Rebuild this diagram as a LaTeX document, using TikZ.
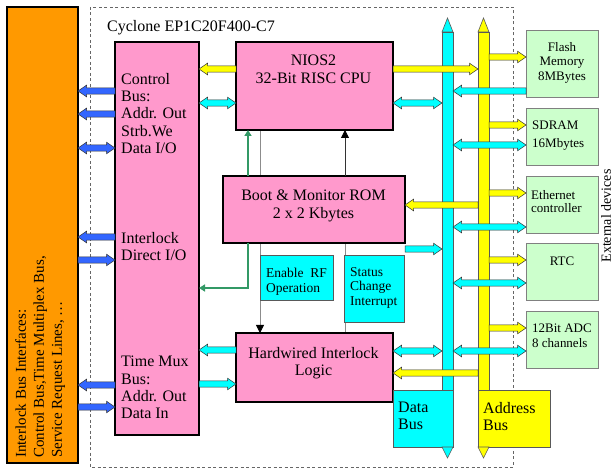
\documentclass[tikz,border=0pt]{standalone}
\usepackage{fontspec}
\setmainfont{Liberation Serif}
\usetikzlibrary{arrows.meta,positioning,calc,backgrounds}
\definecolor{pinkbox}{RGB}{255,153,204}
\definecolor{ilkorange}{RGB}{255,153,0}
\definecolor{devgreen}{RGB}{204,255,204}
\definecolor{ctlblue}{RGB}{51,102,255}
\definecolor{romgreen}{RGB}{51,153,102}
\definecolor{buscyan}{RGB}{0,255,255}
\definecolor{busyellow}{RGB}{255,255,0}

\begin{document}
\begin{tikzpicture}[x=1pt,y=-1pt,
    wh/.style 2 args={minimum width=#1,minimum height=#2,anchor=north west,inner sep=0pt,outer sep=0pt},
    pinkblk/.style={draw,line width=1.3pt,fill=pinkbox},
    devblk/.style={draw=black!50,line width=0.9pt,fill=devgreen},
    cyanblk/.style={draw=black!65,line width=0.9pt,fill=buscyan},
    txt/.style={inner sep=0pt,align=left,font=\fontsize{16}{17.3}\selectfont},
    small/.style={inner sep=0pt,align=left,font=\fontsize{13}{14.7}\selectfont},
    onehead/.style={draw=black!80,line width=0.5pt,
      to path={let \p1=(\tikztostart),\p2=(\tikztotarget),\n1={8.5*sign(\x2-\x1)} in
        (\x1,{\y1+3.2pt}) -- ({\x2-\n1},{\y1+3.2pt}) -- ({\x2-\n1},{\y1+5.8pt}) -- (\x2,\y1)
        -- ({\x2-\n1},{\y1-5.8pt}) -- ({\x2-\n1},{\y1-3.2pt}) -- (\x1,{\y1-3.2pt}) -- cycle}},
    twohead/.style={draw=black!80,line width=0.5pt,
      to path={let \p1=(\tikztostart),\p2=(\tikztotarget),\n1={8.5*sign(\x2-\x1)} in
        (\x1,\y1) -- ({\x1+\n1},{\y1+5.8pt}) -- ({\x1+\n1},{\y1+3.2pt}) -- ({\x2-\n1},{\y1+3.2pt})
        -- ({\x2-\n1},{\y1+5.8pt}) -- (\x2,\y1) -- ({\x2-\n1},{\y1-5.8pt}) -- ({\x2-\n1},{\y1-3.2pt})
        -- ({\x1+\n1},{\y1-3.2pt}) -- ({\x1+\n1},{\y1-5.8pt}) -- cycle}}]
  \useasboundingbox (0,0) rectangle (616,470);

  % FPGA frame
  \draw[black!60,line width=0.8pt,dash pattern=on 3pt off 2.5pt] (90,7) rectangle (513,467);
  \node[txt,anchor=base west] (cyc) at (107,32) {Cyclone EP1C20F400-C7};

  % interlock bus side
  \node[wh={71}{456},draw,line width=1.3pt,fill=ilkorange] (ilk) at (7,7) {};
  \node[txt,font=\fontsize{15}{18}\selectfont,rotate=90,anchor=north west] (ilktxt) at (15,458)
    {Interlock Bus Interfaces:\\Control Bus,Time Multiplex Bus,\\Service Request Lines, \dots};
  \node[wh={84}{393},pinkblk] (io) at (115,42) {};
  \node[txt,anchor=north west] (ctl) at (121,73) {Control\\Bus:\\Addr. Out\\Strb.We\\Data I/O};
  \node[txt,anchor=north west] (dio) at (121,232) {Interlock\\Direct I/O};
  \node[txt,anchor=north west] (tmx) at (121,356) {Time Mux\\Bus:\\Addr. Out\\Data In};

  % processor, ROM and interlock logic
  \node[wh={157}{88},pinkblk] (cpu) at (236,42) {};
  \node[txt,align=center,anchor=north] (cputxt) at (313.5,55) {NIOS2\\32-Bit RISC CPU};
  \node[wh={182}{67},pinkblk] (rom) at (223,176) {};
  \node[txt,align=center,anchor=north] (romtxt) at (313.5,190) {Boot \& Monitor ROM\\2 x 2 Kbytes};
  \node[wh={73}{45},cyanblk] (rfen) at (260,255) {};
  \node[small,font=\fontsize{13.5}{15}\selectfont,anchor=north west] (rfentxt) at (266,268) {Enable~~RF\\Operation};
  \node[wh={60}{67},cyanblk] (stat) at (344,255) {};
  \node[small,font=\fontsize{13.5}{14.6}\selectfont,anchor=north west] (stattxt) at (350,267) {Status\\Change\\Interrupt};
  \node[wh={157}{69},pinkblk] (hw) at (236,333) {};
  \node[txt,align=center,anchor=north] (hwtxt) at (313.5,347) {Hardwired Interlock\\Logic};

  % buses
  \node[wh={11}{358},cyanblk,line width=0.6pt] (dbus) at (442,32) {};
  \filldraw[fill=buscyan,draw=black!65,line width=0.6pt] (dbus.north west) -- ([yshift=14pt]dbus.north) -- (dbus.north east) -- cycle;
  \node[wh={60}{57},cyanblk,line width=0.6pt] (dlab) at (393,390) {};
  \node[txt,anchor=north west] (dlabtxt) at (398,402) {Data\\Bus};
  \filldraw[fill=buscyan,draw=black!65,line width=0.6pt] (dlab.south east) -- ([xshift=-11pt]dlab.south east) -- ([xshift=-5.5pt,yshift=-11pt]dlab.south east) -- cycle;
  \node[wh={11}{358},draw=black!65,line width=0.6pt,fill=busyellow] (abus) at (478,32) {};
  \filldraw[fill=busyellow,draw=black!65,line width=0.6pt] (abus.north west) -- ([yshift=14pt]abus.north) -- (abus.north east) -- cycle;
  \node[wh={72}{57},draw=black!65,line width=0.6pt,fill=busyellow] (alab) at (478,390) {};
  \node[txt,anchor=north west] (alabtxt) at (483,402) {Address\\Bus};
  \filldraw[fill=busyellow,draw=black!65,line width=0.6pt] (alab.south west) -- ([xshift=11pt]alab.south west) -- ([xshift=5.5pt,yshift=-11pt]alab.south west) -- cycle;

  % external devices
  \node[wh={72}{67},devblk] (flash) at (526,30) {};
  \node[small,align=center,anchor=north] (flashtxt) at (562,42) {Flash\\Memory\\8MBytes};
  \node[wh={72}{57},devblk] (sdram) at (526,108) {};
  \node[small,font=\fontsize{13}{18}\selectfont,anchor=north west] (sdramtxt) at (532,121) {SDRAM\\16Mbytes};
  \node[wh={72}{57},devblk] (eth) at (526,176) {};
  \node[small,font=\fontsize{13}{13.5}\selectfont,anchor=north west] (ethtxt) at (531,190) {Ethernet\\controller};
  \node[wh={72}{57},devblk] (rtc) at (526,243) {};
  \node[small,anchor=north] (rtctxt) at (562,257) {RTC};
  \node[wh={72}{57},devblk] (adc) at (526,311) {};
  \node[small,anchor=north west] (adctxt) at (532,324) {12Bit ADC\\8 channels};
  \node[small,font=\fontsize{14}{16}\selectfont,rotate=90] (ext) at (606,216) {External devices};

  % thin control lines behind the blocks
  \begin{scope}[on background layer]
    \draw[black!45,line width=0.8pt,-{Triangle[width=8pt,length=8pt,color=black]}] (cpu.south -| 260,0) -- (hw.north -| 260,0);
    \draw[black!45,line width=0.8pt] (hw.north -| 345,0) -- (rom.south -| 345,0);
  \end{scope}
  \draw[black!80,line width=0.8pt,-{Triangle[width=8pt,length=8pt,color=black]}] (rom.north -| 345,0) -- (cpu.south -| 345,0);
  \draw[romgreen,line width=1.8pt,-{Triangle[width=7pt,length=6pt]}] (rom.north -| 248,0) -- (cpu.south -| 248,0);
  \draw[romgreen,line width=1.8pt,-{Triangle[width=7pt,length=6pt]}] (rom.south -| 248,0) |- (io.east |- 0,288);

  % interlock bus lines
  \foreach \row in {91,114,237,385}
    \draw[onehead,fill=ctlblue] (io.west |- 0,\row) to (ilk.east |- 0,\row);
  \foreach \row in {260,407}
    \draw[onehead,fill=ctlblue] (ilk.east |- 0,\row) to (io.west |- 0,\row);
  \draw[twohead,fill=ctlblue] (ilk.east |- 0,148) to (io.west |- 0,148);

  % address bus
  \draw[onehead,fill=busyellow] (cpu.west |- 0,69) to (io.east |- 0,69);
  \draw[onehead,fill=busyellow] (cpu.east |- 0,69) to (abus.west |- 0,69);
  \draw[onehead,fill=busyellow] (abus.west |- 0,205) to (rom.east |- 0,205);
  \draw[onehead,fill=busyellow] (abus.west |- 0,373) to (hw.east |- 0,373);
  \foreach \dev/\row in {flash/57,sdram/125,eth/193,rtc/260,adc/328}
    \draw[onehead,fill=busyellow] (abus.east |- 0,\row) to (\dev.west |- 0,\row);

  % data bus
  \draw[twohead,fill=buscyan] (io.east |- 0,103) to (cpu.west |- 0,103);
  \draw[twohead,fill=buscyan] (cpu.east |- 0,103) to (dbus.west |- 0,103);
  \draw[onehead,fill=buscyan] (rom.east |- 0,249) to (dbus.west |- 0,249);
  \draw[twohead,fill=buscyan] (hw.east |- 0,351) to (dbus.west |- 0,351);
  \draw[onehead,fill=buscyan] (hw.west |- 0,350) to (io.east |- 0,350);
  \draw[onehead,fill=buscyan] (io.east |- 0,384) to (hw.west |- 0,384);
  \draw[onehead,fill=buscyan] (flash.west |- 0,91) to (dbus.east |- 0,91);
  \foreach \dev/\row in {sdram/145,eth/227,rtc/283,adc/351}
    \draw[twohead,fill=buscyan] (dbus.east |- 0,\row) to (\dev.west |- 0,\row);
\end{tikzpicture}
\end{document}
